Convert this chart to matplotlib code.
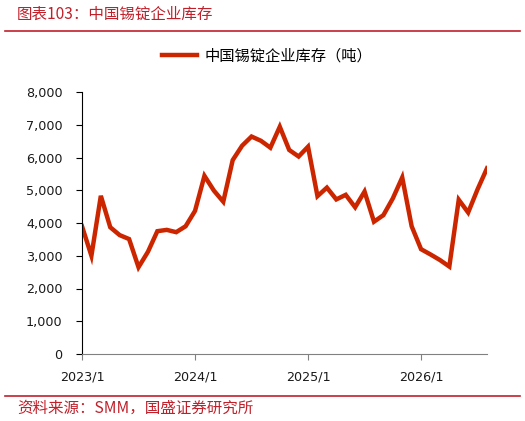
import matplotlib
matplotlib.use("Agg")
import matplotlib.pyplot as plt
from matplotlib.lines import Line2D

plt.rcParams['font.family'] = ['DejaVu Sans', 'Noto Sans CJK SC']

# Monthly data, 2023/1 onwards
values = [3900, 3000, 4830, 3870, 3630, 3510, 2650, 3120, 3750, 3790, 3720, 3900,
          4370, 5440, 4990, 4650, 5920, 6360, 6640, 6510, 6300, 6940, 6230, 6030,
          6330, 4820, 5080, 4720, 4860, 4480, 4960, 4040, 4240, 4750, 5390, 3900,
          3200, 3040, 2870, 2670, 4710, 4320, 5030, 5670]
tick_pos = [0, 12, 24, 36]
tick_labels = ["2023/1", "2024/1", "2025/1", "2026/1"]
y_ticks = [0, 1000, 2000, 3000, 4000, 5000, 6000, 7000, 8000]
series_name = "中国锡锭企业库存（吨）"
title = "图表103：中国锡锭企业库存"
source = "资料来源：SMM，国盛证券研究所"

line_color = "#CC2600"
red = "#C0202A"
cjk = ['Noto Sans CJK SC', 'DejaVu Sans']

fig = plt.figure(figsize=(5.25, 4.21), dpi=100)
ax = fig.add_axes([82/525, 1-354/421, (487-82)/525, (354-92)/421])

x = list(range(len(values)))
ax.plot(x, values, color=line_color, lw=3.2, solid_joinstyle='miter')

ax.set_xlim(0, 43)
ax.set_ylim(0, 8000)
ax.set_yticks(y_ticks)
ax.set_yticklabels([f"{v:,}" for v in y_ticks], fontsize=9.2)
ax.set_xticks(tick_pos)
ax.set_xticklabels(tick_labels, fontsize=9.2)

for s in ['top', 'right']:
    ax.spines[s].set_visible(False)
ax.spines['left'].set_color('black')
ax.spines['left'].set_linewidth(0.8)
ax.spines['bottom'].set_color('#808080')
ax.spines['bottom'].set_linewidth(0.8)
ax.tick_params(axis='y', direction='out', length=4, width=0.8, color='black', pad=10, labelcolor='#1a1a1a')
ax.tick_params(axis='x', direction='out', length=4, width=0.8, color='#808080', pad=8, labelcolor='#1a1a1a')

# Legend
handle = Line2D([], [], color=line_color, lw=3.2)
leg = fig.legend([handle], [series_name], loc='center', bbox_to_anchor=(267/525, 1-56/421),
                 frameon=False, handlelength=2.3, handletextpad=0.5,
                 prop={'family': cjk, 'size': 11})

# Title and source
fig.text(17/525, 1-14/421, title, color=red, fontsize=11.2, family=cjk,
         ha='left', va='center', style='italic')
fig.add_artist(Line2D([5/525, 520/525], [1-31/421, 1-31/421], color=red, lw=1.2,
                      transform=fig.transFigure))
fig.add_artist(Line2D([5/525, 520/525], [1-396/421, 1-396/421], color=red, lw=1.2,
                      transform=fig.transFigure))
fig.text(17/525, 1-408/421, source, color=red, fontsize=11.2, family=cjk,
         ha='left', va='center', style='italic')

fig.savefig("out.png", dpi=100)
